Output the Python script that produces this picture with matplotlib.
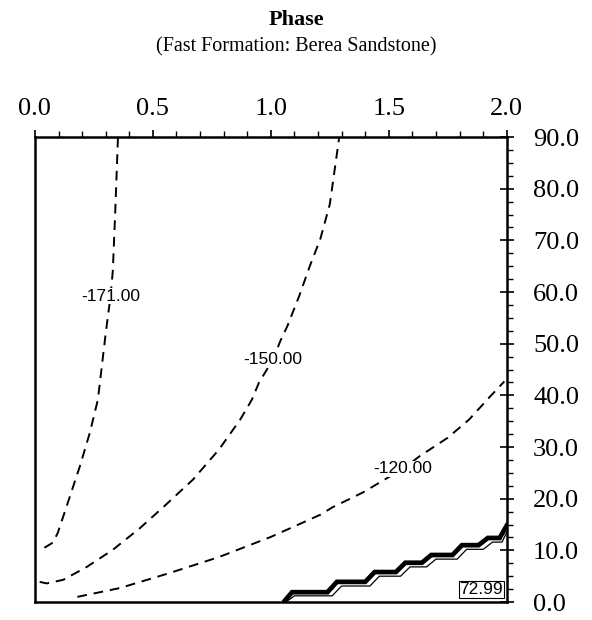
import matplotlib.pyplot as plt
import numpy as np
from matplotlib.ticker import MultipleLocator, FormatStrFormatter

# contour lines (x: 0..2, y: 0..90)
c171_x = [0.04, 0.076, 0.097, 0.148, 0.19, 0.233, 0.267, 0.30, 0.32, 0.33, 0.34, 0.352]
c171_y = [10.5, 11.5, 13.4, 20.4, 26.2, 32.8, 39.2, 52.0, 59.0, 64.0, 75.0, 90.0]

c150_x = [0.02, 0.05, 0.12, 0.22, 0.33, 0.445, 0.54, 0.67, 0.78, 0.87, 0.92,
          0.95, 1.01, 1.04, 1.07, 1.12, 1.165, 1.21, 1.25, 1.29]
c150_y = [3.9, 3.6, 4.3, 6.8, 10.1, 14.3, 18.2, 23.7, 29.5, 35.3, 39.2,
          42.5, 47.0, 50.5, 53.4, 59.2, 65.0, 70.3, 77.0, 90.0]

c120_x = [0.18, 0.36, 0.57, 0.78, 1.0, 1.21, 1.26, 1.39, 1.46, 1.56, 1.63,
          1.75, 1.84, 1.93, 1.99]
c120_y = [1.0, 2.7, 5.6, 8.7, 12.6, 16.9, 18.3, 21.2, 23.1, 25.8, 28.2,
          31.8, 35.3, 39.8, 42.7]

# stepped contour at the bottom right
step_x = [1.06, 1.09, 1.24, 1.28, 1.40, 1.44, 1.53, 1.57, 1.64, 1.68,
          1.77, 1.81, 1.88, 1.92, 1.97, 2.0]
step_y = [0.3, 1.9, 1.9, 3.9, 3.9, 5.8, 5.8, 7.6, 7.6, 9.1,
          9.1, 11.0, 11.0, 12.4, 12.4, 14.8]
thin_x = [1.07, 1.10, 1.26, 1.30, 1.42, 1.46, 1.55, 1.59, 1.66, 1.70,
          1.79, 1.83, 1.90, 1.94, 1.98, 2.0]
thin_y = [0.2, 1.2, 1.2, 3.1, 3.1, 5.0, 5.0, 6.8, 6.8, 8.3,
          8.3, 10.2, 10.2, 11.6, 11.6, 13.5]

labels = ['-171.00', '-150.00', '-120.00']
label_x = [0.32, 1.01, 1.56]
label_y = [59.2, 47.0, 25.8]

plt.rcParams['font.family'] = ['Liberation Serif', 'DejaVu Serif']

fig = plt.figure(figsize=(5.92, 6.2), dpi=100)
ax = fig.add_axes([0.059, 0.029, 0.797, 0.75])

dash = (0, (5, 3.5))
ax.plot(c171_x, c171_y, color='black', linestyle=dash, linewidth=1.4)
ax.plot(c150_x, c150_y, color='black', linestyle=dash, linewidth=1.4)
ax.plot(c120_x, c120_y, color='black', linestyle=dash, linewidth=1.4)

ax.plot(step_x, step_y, color='black', linewidth=3.4, solid_joinstyle='miter')
ax.plot(thin_x, thin_y, color='black', linewidth=0.9)

for lab, lx, ly in zip(labels, label_x, label_y):
    ax.text(lx, ly, lab, ha='center', va='center', fontsize=12.5,
            family='Liberation Sans',
            bbox=dict(facecolor='white', edgecolor='none', pad=0.5))

ax.text(1.985, 2.4, '72.99', ha='right', va='center', fontsize=12.5,
        family='Liberation Sans',
        bbox=dict(facecolor='white', edgecolor='black', linewidth=0.8, pad=0.8))

ax.set_xlim(0, 2.0)
ax.set_ylim(0, 90)

ax.xaxis.set_major_locator(MultipleLocator(0.5))
ax.xaxis.set_minor_locator(MultipleLocator(0.1))
ax.xaxis.set_major_formatter(FormatStrFormatter('%.1f'))
ax.yaxis.set_major_locator(MultipleLocator(10))
ax.yaxis.set_minor_locator(MultipleLocator(2.5))
ax.yaxis.set_major_formatter(FormatStrFormatter('%.1f'))

ax.tick_params(axis='x', which='both', top=True, bottom=False,
               labeltop=True, labelbottom=False, direction='out')
ax.tick_params(axis='x', which='major', length=5, width=1.2, pad=7, labelsize=19)
ax.tick_params(axis='x', which='minor', length=4, width=1.0)
ax.tick_params(axis='y', which='both', right=True, left=False,
               labelright=True, labelleft=False)
ax.tick_params(axis='y', which='major', direction='inout', length=10, width=1.2,
               pad=14, labelsize=19)
ax.tick_params(axis='y', which='minor', direction='out', length=4, width=1.0)

for s in ax.spines.values():
    s.set_linewidth(1.8)

fig.text(0.5, 0.968, 'Phase', ha='center', va='center', fontsize=16, fontweight='bold')
fig.text(0.5, 0.925, '(Fast Formation: Berea Sandstone)', ha='center', va='center',
         fontsize=14.5)

fig.savefig('out.png', dpi=100)
